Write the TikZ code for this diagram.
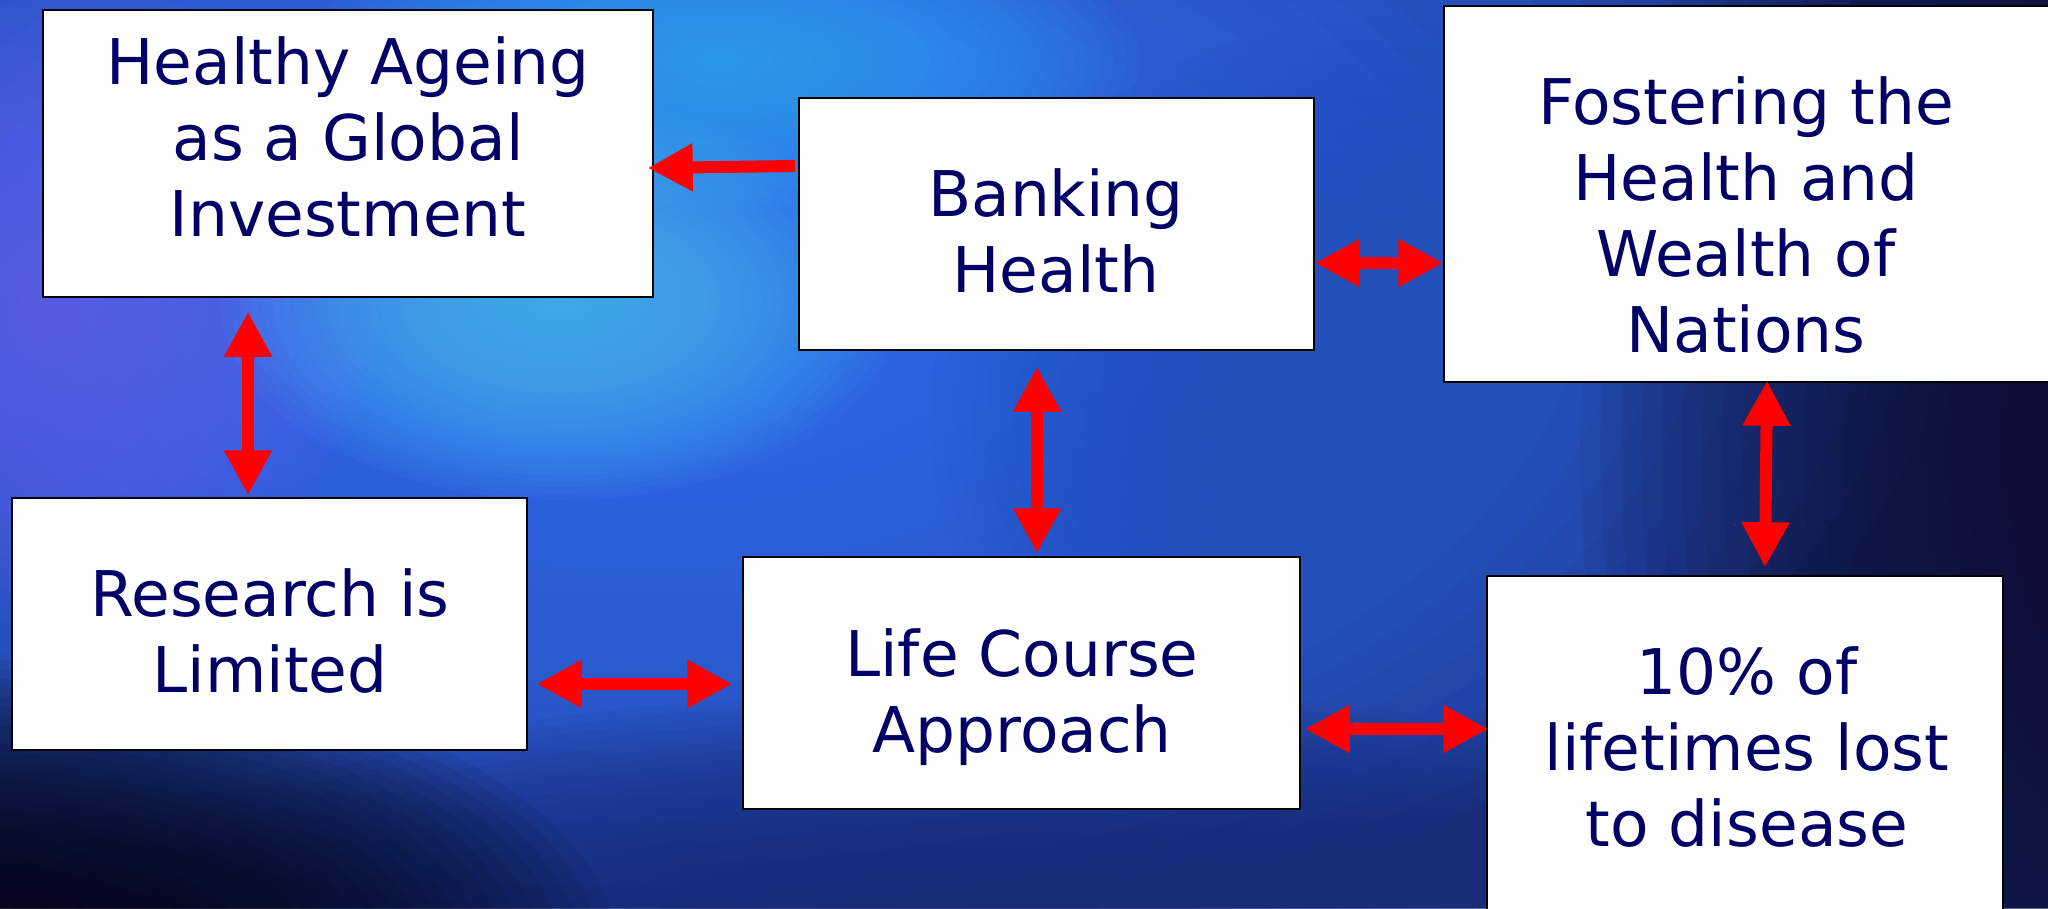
\documentclass[tikz,border=0pt]{standalone}
\usepackage{fontspec}
\setmainfont{DejaVu Sans}
\usetikzlibrary{arrows.meta}
\definecolor{navytext}{RGB}{0,0,102}
\definecolor{bgbase}{RGB}{25,45,120}
\definecolor{bgblue}{RGB}{55,112,245}
\definecolor{bgcyan}{RGB}{80,195,250}
\definecolor{bgcyantop}{RGB}{50,175,250}
\definecolor{bgpurple}{RGB}{105,95,245}
\definecolor{bgdark}{RGB}{6,6,22}
\definecolor{bgnavy}{RGB}{14,14,45}
\definecolor{bgmidright}{RGB}{35,80,185}
\definecolor{bgbottom}{RGB}{24,44,120}
\definecolor{arrred}{RGB}{255,0,0}
\newcommand{\softblob}[6]{%
  \foreach \kk in {1,...,32}{%
    \fill[#5, fill opacity=#6] (#1,#2) ellipse ({#3/32*\kk*1pt} and {#4/32*\kk*1pt});
  }%
}
\tikzset{
  box/.style={draw=black, line width=1.5pt, fill=white, inner sep=0pt},
  lbl/.style={text=navytext, align=center, inner sep=0pt, font=\fontsize{63}{76}\selectfont},
  dblarrow/.style={draw=arrred, line width=12pt, {Triangle[length=45pt,width=45pt]}-{Triangle[length=45pt,width=45pt]}},
  onearrow/.style={draw=arrred, line width=12pt, -{Triangle[length=45pt,width=45pt]}}
}
\begin{document}
\begin{tikzpicture}[x=1pt,y=-1pt]
\useasboundingbox (0,0) rectangle (2048,908);
\begin{scope}
\clip (0,0) rectangle (2048,908);
\fill[bgbase] (0,0) rectangle (2048,908);
\softblob{650}{280}{1300}{720}{bgblue}{0.083}
\softblob{1380}{420}{450}{400}{bgmidright}{0.06}
\softblob{60}{300}{320}{320}{bgpurple}{0.051}
\softblob{720}{60}{420}{150}{bgcyantop}{0.051}
\softblob{560}{300}{340}{200}{bgcyan}{0.051}
\softblob{1000}{950}{1000}{260}{bgbottom}{0.07}
\softblob{0}{960}{620}{300}{bgdark}{0.073}
\softblob{2230}{450}{650}{950}{bgnavy}{0.067}
\end{scope}

% boxes
\node[box, minimum width=610pt, minimum height=287pt] (heal) at (348,153.5) {};
\node[box, minimum width=515pt, minimum height=252pt] (bank) at (1056.5,224) {};
\node[box, minimum width=606pt, minimum height=376pt] (fost) at (1747,194) {};
\node[box, minimum width=515pt, minimum height=252pt] (res) at (269.5,624) {};
\node[box, minimum width=557pt, minimum height=252pt] (life) at (1021.5,683) {};
\node[box, minimum width=516pt, minimum height=346pt] (ten) at (1745,749) {};

% labels
\node[lbl] (healT) at (348,137) {Healthy Ageing\\as a Global\\Investment};
\node[lbl] (bankT) at (1056,231.5) {Banking\\Health};
\node[lbl] (fostT) at (1746,215) {Fostering the\\Health and\\Wealth of\\Nations};
\node[lbl] (resT) at (270,631) {Research is\\Limited};
\node[lbl] (lifeT) at (1022,697) {Life Course\\Approach};
\node[lbl] (tenT) at (1747,747) {10\% of\\lifetimes lost\\to disease};

% connectors
\draw[onearrow] ([xshift=-3pt,yshift=58pt]bank.west) -- ([xshift=-6pt,yshift=-14.5pt]heal.east);
\draw[dblarrow] ([xshift=-100pt,yshift=-14pt]heal.south) -- ([xshift=-21.5pt,yshift=2pt]res.north);
\draw[dblarrow] ([yshift=-39pt]bank.east) -- ([yshift=-69pt]fost.west);
\draw[dblarrow] ([xshift=-19.5pt,yshift=-16pt]bank.south) -- ([xshift=15.5pt,yshift=3pt]life.north);
\draw[dblarrow] ([xshift=20pt,yshift=2pt]fost.south) -- ([xshift=20pt,yshift=8pt]ten.north);
\draw[dblarrow] ([xshift=9pt,yshift=-60pt]res.east) -- ([xshift=-10pt,yshift=-1pt]life.west);
\draw[dblarrow] ([xshift=4pt,yshift=-46pt]life.east) -- ([xshift=2pt,yshift=20pt]ten.west);
\end{tikzpicture}
\end{document}
